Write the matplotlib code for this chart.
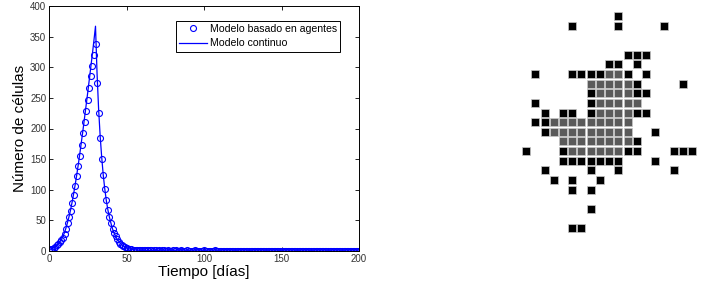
import matplotlib
matplotlib.use('Agg')
import matplotlib.pyplot as plt

plt.rcParams['font.family'] = ['Liberation Sans', 'DejaVu Sans']

# modelo basado en agentes, un punto por dia (t = 0..200)
dias = list(range(0, 201))
agentes = [2, 3, 4, 5, 7, 9, 11, 14, 18, 22,
           28, 36, 45, 55, 65, 78, 92, 106, 122, 138,
           155, 173, 192, 210, 229, 247, 266, 285, 302, 320,
           338, 275, 226, 185, 151, 124, 101, 83, 67, 55,
           45, 36, 29, 24, 19, 15, 12, 10, 8, 6,
           5, 4, 3, 3, 2, 2, 2, 1, 1, 1,
           1]
cola = [1, 1, 1, 1, 1, 1, 0, 1, 1, 0, 1, 0, 1, 1, 0, 0, 1, 0, 0, 1,
        0, 1, 0, 0, 1, 0, 0, 0, 1, 0, 0, 0, 0, 1, 0, 0, 0, 0, 0, 1,
        0, 0, 0, 0, 0, 0, 1, 0, 0, 0, 0, 0, 0, 0, 0, 0, 0, 0, 0, 0,
        0, 0, 0, 0, 0, 0, 0, 0, 0, 0, 0, 0, 0, 0, 0, 0, 0, 0, 0, 0,
        0, 0, 0, 0, 0, 0, 0, 0, 0, 0, 0, 0, 0, 0, 0, 0, 0, 0, 0, 0,
        0, 0, 0, 0, 0, 0, 0, 0, 0, 0, 0, 0, 0, 0, 0, 0, 0, 0, 0, 0,
        0, 0, 0, 0, 0, 0, 0, 0, 0, 0, 0, 0, 0, 0, 0, 0, 0, 0, 0, 0]
agentes = agentes + cola[:len(dias) - len(agentes)]

# modelo continuo
t_cont = list(range(0, 61)) + [80, 100, 120, 140, 160, 180, 200]
continuo = [2, 3, 4, 5.5, 7, 9, 12, 15, 19, 24,
            30, 38, 47, 57, 68, 81, 95, 110, 126, 143,
            161, 180, 199, 219, 239, 259, 280, 301, 322, 344,
            367, 290, 232, 188, 153, 124, 101, 82, 67, 55,
            45, 36, 29, 24, 19, 16, 13, 10, 8, 7,
            5, 4, 3.5, 3, 2.5, 2, 1.7, 1.4, 1.2, 1, 0.8,
            0.3, 0.1, 0, 0, 0, 0, 0]

xticks = [0, 50, 100, 150, 200]
yticks = [0, 50, 100, 150, 200, 250, 300, 350, 400]

# rejilla: k = celula negra, g = celula gris
rejilla = [
    "..........k........",
    ".....k....k....k...",
    "...................",
    "...................",
    "...........kkk.....",
    ".........kk.k......",
    ".k...kkkkggk.k.....",
    ".......gggggk....k.",
    ".......kggggkk.....",
    ".k.....kggggg......",
    "..k.kk.kggggkk.....",
    ".kkggggggggg.......",
    "..kggggggggg..k....",
    "....ggggggggk......",
    "k...kggggggkk...kkk",
    "....kkkkkkk...k....",
    "..k....k..k.....k..",
    "...k.k..k..........",
    ".....k.k...........",
    "...................",
    ".......k...........",
    "...................",
    ".....kk............",
]

fig = plt.figure(figsize=(7.01, 2.86), dpi=100)

ax = fig.add_axes([49 / 701, 35 / 286, 310 / 701, 245 / 286])
ax.plot(dias, agentes, 'o', mfc='none', mec='b', ms=4.3, mew=0.8,
        label='Modelo basado en agentes')
ax.plot(t_cont, continuo, 'b-', lw=0.9, label='Modelo continuo')
ax.set_xlim(0, 200)
ax.set_ylim(0, 400)
ax.set_xticks(xticks)
ax.set_yticks(yticks)
ax.tick_params(direction='in', top=True, right=True, labelsize=7,
               labelcolor='#333333', length=3, width=0.6, pad=2)
for s in ax.spines.values():
    s.set_linewidth(0.7)
ax.set_xlabel('Tiempo [días]', fontsize=11, labelpad=1)
ax.set_ylabel('Número de células', fontsize=11, labelpad=2)
leg = ax.legend(loc='upper right', bbox_to_anchor=(340 / 701, 1 - 21 / 286),
                bbox_transform=fig.transFigure, borderaxespad=0,
                fontsize=7.6, fancybox=False, edgecolor='black', framealpha=1,
                numpoints=1, handlelength=2.6, handletextpad=0.3,
                borderpad=0.3, labelspacing=0.4)
leg.get_frame().set_linewidth(0.7)

ax2 = fig.add_axes([517 / 701, 36 / 286, 184 / 701, 244 / 286])
colores = {'k': 'black', 'g': '#5a5a5a'}
for letra, color in colores.items():
    filas = [r for r, linea in enumerate(rejilla) for c, ch in enumerate(linea) if ch == letra]
    cols = [c for r, linea in enumerate(rejilla) for c, ch in enumerate(linea) if ch == letra]
    ax2.scatter(cols, filas, marker='s', s=33, c=color, edgecolors='#c8c8c8',
                linewidths=0.5, clip_on=False)
ax2.set_xlim(-1, 18.97)
ax2.set_ylim(24.25, -1.04)
ax2.axis('off')

fig.savefig('out.png', dpi=100)
